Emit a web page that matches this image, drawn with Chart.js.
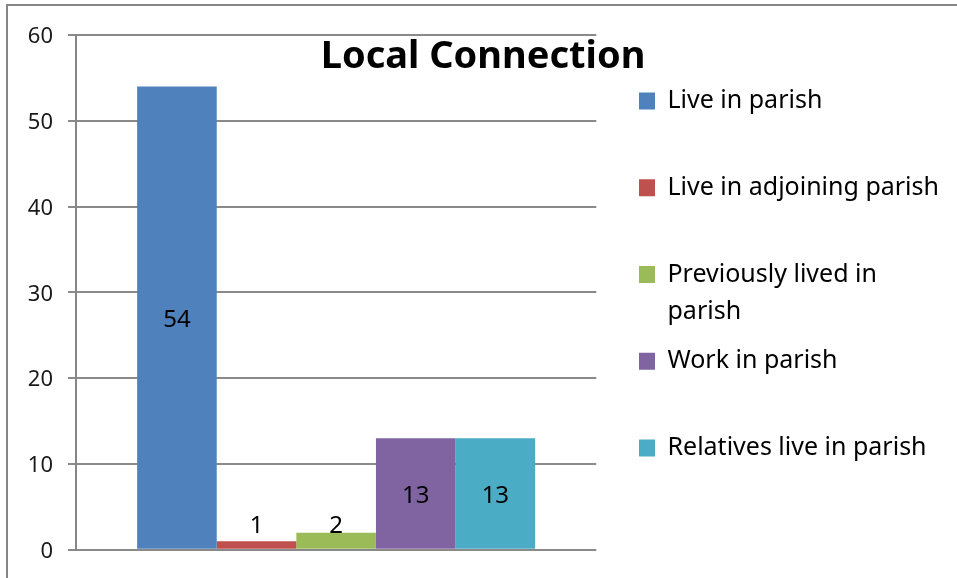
<!DOCTYPE html>
<html>
<head>
<meta charset="utf-8">
<title>Local Connection</title>
<script src="https://cdn.jsdelivr.net/npm/chart.js@4"></script>
<style>
  body { margin: 0; background: #fff; }
  #wrap { position: relative; width: 957px; height: 578px; }
  #frame {
    position: absolute; top: 4px; left: 6px; right: 0; bottom: 0;
    border-top: 2px solid #868686; border-left: 2px solid #868686;
    pointer-events: none;
  }
</style>
</head>
<body>
<div id="wrap">
  <canvas id="myChart" width="957" height="578"></canvas>
  <div id="frame"></div>
</div>
<script>
// datos del grafico
var categories = [''];
var seriesNames = ['Live in parish', 'Live in adjoining parish', 'Previously lived in parish', 'Work in parish', 'Relatives live in parish'];
var seriesValues = [54, 1, 2, 13, 13];
var seriesColors = ['#4f81bd', '#c0504d', '#9bbb59', '#8064a2', '#4bacc6'];
// leyenda en dos lineas (la tercera se corta como en el original)
var legendLines = [
    ['Live in parish', ''],
    ['Live in adjoining parish', ''],
    ['Previously lived in', 'parish'],
    ['Work in parish', ''],
    ['Relatives live in parish', '']
];
var yMin = 0, yMax = 60, yStep = 10;

Chart.defaults.font.family = "'Noto Sans', sans-serif";

// etiquetas de valor sobre/en las barras
var valueLabels = {
    id: 'valueLabels',
    afterDatasetsDraw: function (chart) {
        var ctx = chart.ctx;
        ctx.save();
        ctx.font = "24px 'Noto Sans', sans-serif";
        ctx.fillStyle = '#000';
        ctx.textAlign = 'center';
        ctx.textBaseline = 'middle';
        chart.data.datasets.forEach(function (ds, i) {
            chart.getDatasetMeta(i).data.forEach(function (bar, j) {
                var y = Math.min((bar.y + bar.base) / 2, bar.base - 26) + 3;
                ctx.fillText(String(ds.data[j]), bar.x, y);
            });
        });
        ctx.restore();
    }
};

var configChart = {
    type: 'bar',
    data: {
        labels: categories,
        datasets: seriesNames.map(function (name, i) {
            return {
                label: name,
                data: [seriesValues[i]],
                backgroundColor: seriesColors[i],
                borderWidth: 0,
                barPercentage: 1,
                categoryPercentage: 0.765
            };
        })
    },
    options: {
        responsive: false,
        animation: false,
        layout: { padding: { top: 20, left: 17, right: 8, bottom: 0 } },
        scales: {
            x: {
                grid: { display: false },
                border: { display: false },
                ticks: { display: false },
                afterFit: function (s) { s.height = 27; }
            },
            y: {
                min: yMin,
                max: yMax,
                ticks: { stepSize: yStep, padding: 15, labelOffset: 2, color: '#1a1a1a', font: { size: 22 } },
                grid: { color: '#8a8a8a', lineWidth: 2, tickLength: 8 },
                border: { color: '#868686', width: 2 },
                afterFit: function (s) { s.width = 59; }
            },
            // hueco entre el area del grafico y la leyenda
            gap: {
                type: 'linear',
                position: 'right',
                grid: { display: false },
                border: { display: false },
                ticks: { display: false },
                afterFit: function (s) { s.width = 30; }
            }
        },
        plugins: {
            title: {
                display: true,
                text: 'Local Connection',
                color: '#000',
                font: { size: 38, weight: 'bold', lineHeight: 1.2 },
                padding: { top: 14, bottom: -44.6 }
            },
            legend: {
                position: 'right',
                align: 'center',
                maxWidth: 400,
                labels: {
                    boxWidth: 16,
                    boxHeight: 17,
                    padding: 12.7,
                    color: '#000',
                    font: { size: 25, lineHeight: '37px' },
                    generateLabels: function (chart) {
                        return Chart.defaults.plugins.legend.labels.generateLabels(chart).map(function (item, i) {
                            item.text = legendLines[i];
                            return item;
                        });
                    }
                }
            },
            tooltip: { enabled: false }
        }
    },
    plugins: [valueLabels]
};

window.onload = () => {
    const myChart = document.querySelector('#myChart').getContext('2d');
    var graphicsChart = new Chart(myChart, configChart);
};
</script>
</body>
</html>
